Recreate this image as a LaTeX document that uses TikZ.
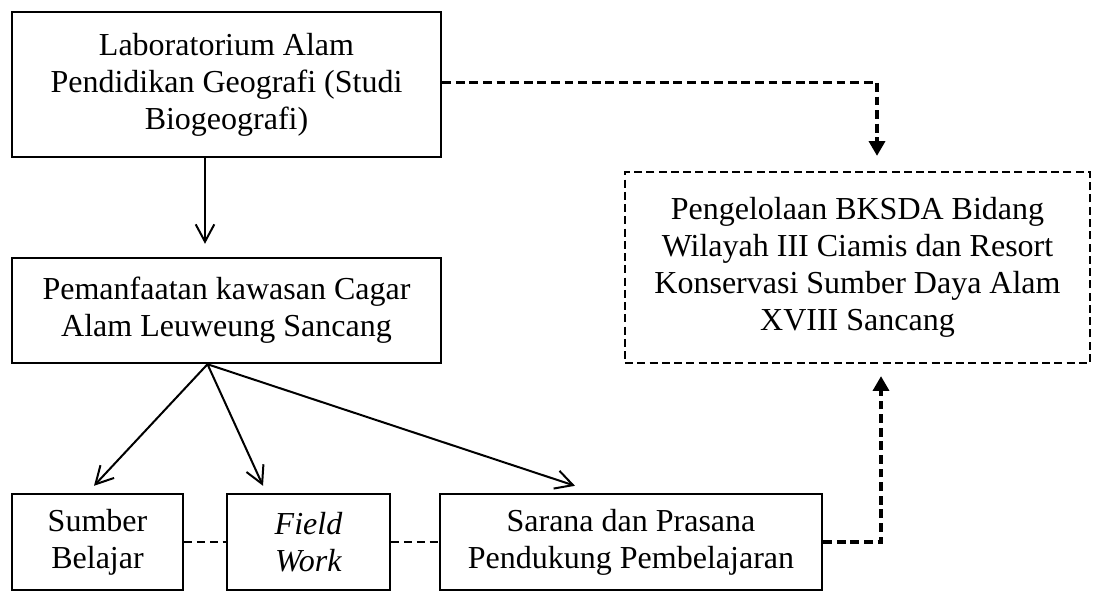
\documentclass[tikz,border=0pt]{standalone}
\usepackage{fontspec}
\setmainfont{Liberation Serif}
\usetikzlibrary{arrows.meta}

\begin{document}
\begin{tikzpicture}[x=0.375pt,y=-0.375pt,
  kotak/.style={draw,line width=0.9pt,align=center,inner sep=0pt,font=\fontsize{12}{13.9}\selectfont},
  kotakputus/.style={kotak,dash pattern=on 3pt off 1.6pt},
  panah/.style={line width=0.75pt,-{Straight Barb[length=6.5pt,width=7pt,line width=0.75pt]}},
  panahputus/.style={line width=1.2pt,dash pattern=on 3.3pt off 1.8pt,-{Triangle[length=5.5pt,width=6pt]}},
  garisputus/.style={line width=0.9pt,dash pattern=on 3pt off 1.8pt}]
  \useasboundingbox (0,0) rectangle (1093,592);

  \node[kotak,minimum width=160.9pt,minimum height=54.4pt] (lab) at (226.5,84.5)
  {Laboratorium Alam\\Pendidikan Geografi (Studi\\Biogeografi)};
  \node[kotak,minimum width=160.9pt,minimum height=39.4pt] (pem) at (226.5,310.5)
  {Pemanfaatan kawasan Cagar\\Alam Leuweung Sancang};
  \node[kotakputus,minimum width=174.4pt,minimum height=71.6pt] (bksda) at (857.5,267.5)
  {Pengelolaan BKSDA Bidang\\Wilayah III Ciamis dan Resort\\Konservasi Sumber Daya Alam\\XVIII Sancang};

  \node[kotak,minimum width=64.1pt,minimum height=36pt] (sumber) at (97.5,542)
  {Sumber\\Belajar};
  \node[kotak,minimum width=61.1pt,minimum height=36pt] (field) at (308.5,542)
  {\textit{Field}\\\textit{Work}};
  \node[kotak,minimum width=143.3pt,minimum height=36pt] (sarana) at (631,542)
  {Sarana dan Prasana\\Pendukung Pembelajaran};

  \coordinate (cabang) at ([shift={(-19,0)}]pem.south);

  \draw[panah] ([shift={(-21.5,0)}]lab.south) -- ([shift={(-21.5,-13)}]pem.north);
  \draw[panah] (cabang) -- ([shift={(-3.5,-7)}]sumber.north);
  \draw[panah] (cabang) -- ([shift={(-45.5,-7)}]field.north);
  \draw[panah] (cabang) -- ([shift={(-56,-7)}]sarana.north);

  \draw[garisputus] (sumber.east) -- (field.west);
  \draw[garisputus] (field.east) -- (sarana.west);

  \draw[panahputus] ([shift={(0,-2)}]lab.east) -| ([shift={(19.5,-15)}]bksda.north);
  \draw[panahputus] (sarana.east) -| ([shift={(23.5,12)}]bksda.south);
\end{tikzpicture}
\end{document}
